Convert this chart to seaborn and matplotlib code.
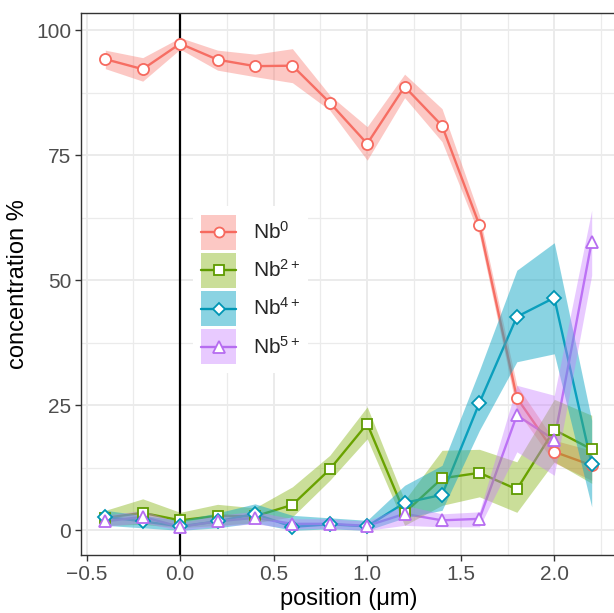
import matplotlib
matplotlib.use("Agg")
import matplotlib.pyplot as plt
from matplotlib.lines import Line2D
from matplotlib.patches import Rectangle
import seaborn as sns
import numpy as np

# position along the line scan (um)
pos = [-0.4, -0.2, 0.0, 0.2, 0.4, 0.6, 0.8, 1.0, 1.2, 1.4, 1.6, 1.8, 2.0, 2.2]

nb0 = [94.2, 92.2, 97.3, 94.1, 92.8, 92.9, 85.5, 77.3, 88.7, 80.9, 61.0, 26.5, 15.7, 13.0]
nb0_lo = [92.3, 89.8, 96.2, 92.0, 90.7, 89.5, 84.0, 74.0, 86.5, 77.7, 59.0, 24.0, 13.5, 10.0]
nb0_hi = [96.0, 94.5, 98.5, 96.0, 95.2, 96.3, 87.0, 80.7, 91.2, 84.3, 63.0, 29.0, 18.0, 16.0]

nb2 = [2.5, 3.5, 2.0, 2.9, 2.8, 5.1, 12.2, 21.3, 3.5, 10.4, 11.5, 8.2, 20.1, 16.2]
nb2_lo = [1.0, 1.2, 0.5, 1.0, 1.5, 2.7, 10.0, 18.3, 1.0, 5.0, 6.7, 3.6, 13.7, 9.4]
nb2_hi = [4.0, 6.3, 3.6, 5.2, 4.5, 8.7, 15.0, 24.7, 6.0, 16.0, 16.2, 13.7, 26.2, 23.0]

nb4 = [2.7, 1.8, 0.8, 1.8, 3.3, 0.7, 1.2, 0.8, 5.5, 7.1, 25.5, 42.7, 46.5, 13.2]
nb4_lo = [1.0, 0.5, 0.0, 0.5, 1.5, 0.0, 0.3, 0.0, 2.5, 4.0, 20.0, 33.7, 35.3, 4.7]
nb4_hi = [4.0, 3.0, 2.0, 3.5, 5.3, 3.0, 2.5, 2.0, 9.0, 13.0, 32.0, 52.0, 57.5, 22.0]

nb5 = [1.8, 2.7, 0.7, 1.8, 2.5, 1.3, 1.3, 0.9, 3.3, 2.0, 2.3, 23.0, 18.1, 57.7]
nb5_lo = [0.8, 1.5, 0.0, 0.8, 1.3, 0.3, 0.4, 0.0, 1.0, 0.7, 0.7, 15.7, 11.0, 51.0]
nb5_hi = [3.0, 4.0, 1.5, 3.0, 3.8, 2.3, 2.3, 1.8, 5.0, 3.3, 3.7, 29.0, 27.0, 64.0]

labels = [r"Nb$^{0}$", r"Nb$^{2+}$", r"Nb$^{4+}$", r"Nb$^{5+}$"]
line_cols = ["#F6695E", "#5E9B00", "#0096B4", "#B66CF0"]
fill_cols = ["#F8766D", "#7CAE00", "#17A9C6", "#C77CFF"]
fill_alpha = [0.4, 0.4, 0.5, 0.4]
markers = ["o", "s", "D", "^"]
msizes = [8, 7.5, 7, 9]

series = [(nb0, nb0_lo, nb0_hi), (nb2, nb2_lo, nb2_hi),
          (nb4, nb4_lo, nb4_hi), (nb5, nb5_lo, nb5_hi)]


class KeyHandler:
    # ggplot-like key: filled square with the line and point on top
    def legend_artist(self, legend, orig_handle, fontsize, handlebox):
        fc, fa, lc, m, ms = orig_handle
        w, h, d = handlebox.width, handlebox.height, handlebox.ydescent
        tr = handlebox.get_transform()
        rect = Rectangle((0, -d), w, h, facecolor=fc, alpha=fa, lw=0, transform=tr)
        yc = h / 2 - d
        ln = Line2D([0, w], [yc, yc], color=lc, lw=1.7, transform=tr)
        pt = Line2D([w / 2], [yc], ls="none", marker=m, ms=ms * 0.9, mfc="white", mec=lc,
                    mew=1.3, transform=tr)
        for a in (rect, ln, pt):
            handlebox.add_artist(a)
        return rect


class Key:
    def __init__(self, *args):
        self.args = args

    def __iter__(self):
        return iter(self.args)


sns.set_theme(style="white")
plt.rcParams['font.family'] = ['Liberation Sans', 'DejaVu Sans']
plt.rcParams['mathtext.fontset'] = 'custom'
plt.rcParams['mathtext.rm'] = 'Liberation Sans'
plt.rcParams['mathtext.it'] = 'Liberation Sans:italic'

fig = plt.figure(figsize=(6.14, 6.13), dpi=100)
ax = fig.add_axes([81 / 614, 1 - 555 / 613, 535 / 614, 542 / 613])

ax.axvline(0, color="black", lw=1.6, zorder=1.5)

# lines first, ribbons over them, points on top
for (y, lo, hi), lc, fc, fa, m, ms in zip(series, line_cols, fill_cols, fill_alpha, markers, msizes):
    sns.lineplot(x=pos, y=y, color=lc, lw=1.7, ax=ax, zorder=2)
    ax.fill_between(pos, lo, hi, color=fc, alpha=fa, lw=0, zorder=3)
    ax.plot(pos, y, ls="none", marker=m, ms=ms, mfc="white", mec=lc, mew=1.3, zorder=4)

ax.set_xlim(-0.53, 2.33)
ax.set_ylim(-4.93, 103.43)
ax.set_xticks([-0.5, 0.0, 0.5, 1.0, 1.5, 2.0])
ax.set_xticklabels(["\u22120.5", "0.0", "0.5", "1.0", "1.5", "2.0"])
ax.set_yticks([0, 25, 50, 75, 100])
ax.set_xticks(np.arange(-0.25, 2.3, 0.5), minor=True)
ax.set_yticks([12.5, 37.5, 62.5, 87.5], minor=True)
ax.grid(which="major", color="#EBEBEB", lw=1.4, zorder=0)
ax.grid(which="minor", color="#EBEBEB", lw=0.9, zorder=0)
ax.set_axisbelow(True)

for s in ax.spines.values():
    s.set_color("#333333")
    s.set_linewidth(1.0)
ax.tick_params(which="major", direction="out", length=4, width=1.0, color="#333333",
               labelsize=15, labelcolor="#4D4D4D", pad=3, bottom=True, left=True)
ax.tick_params(which="minor", length=0)

ax.set_xlabel("position (\u03bcm)", fontsize=17, color="black", labelpad=3)
ax.set_ylabel("concentration %", fontsize=17, color="black", labelpad=5)

keys = [Key(fc, fa, lc, m, ms)
        for lc, fc, fa, m, ms in zip(line_cols, fill_cols, fill_alpha, markers, msizes)]
leg = ax.legend(keys, labels, handler_map={Key: KeyHandler()},
                loc="upper left", bbox_to_anchor=(0.209, 0.643), fontsize=15,
                frameon=True, facecolor="white", edgecolor="none", framealpha=1,
                handlelength=1.68, handleheight=2.21, labelspacing=0.15,
                handletextpad=0.8, borderpad=0.4, borderaxespad=0, fancybox=False)
leg.set_zorder(5)

fig.savefig("out.png", dpi=100)
